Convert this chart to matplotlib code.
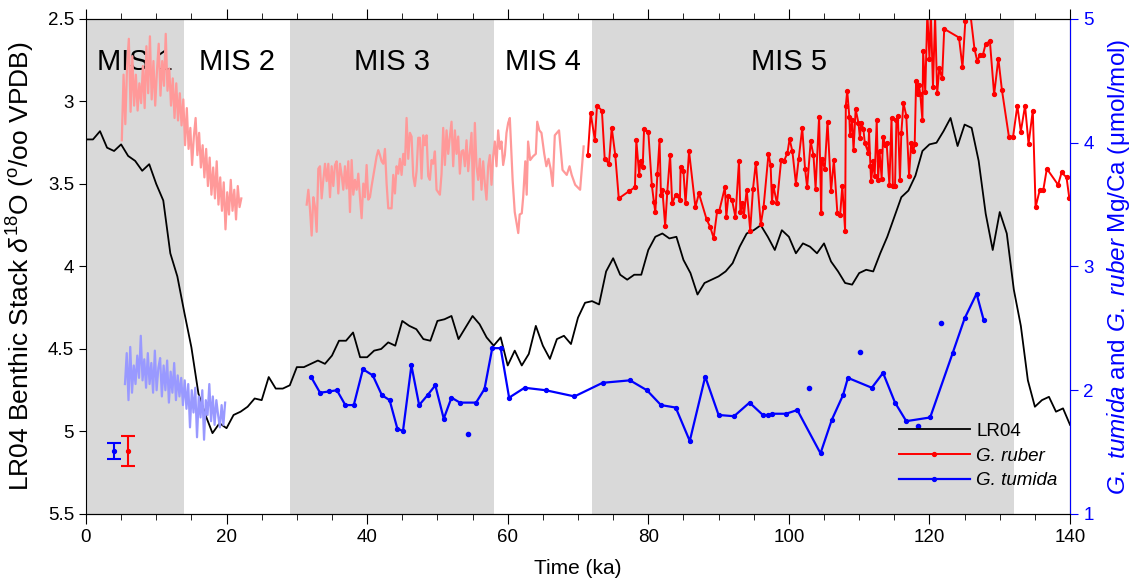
import numpy as np
import matplotlib
matplotlib.use('Agg')
import matplotlib.pyplot as plt
from matplotlib.ticker import MultipleLocator

plt.rcParams['font.family'] = ['Liberation Sans', 'DejaVu Sans']
plt.rcParams['mathtext.fontset'] = 'custom'
plt.rcParams['mathtext.rm'] = 'Liberation Sans'
plt.rcParams['mathtext.it'] = 'Liberation Sans:italic'

# LR04 benthic stack, 1 kyr steps (per mil)
lr04_age = np.arange(0, 141)
lr04_d18o = [3.23, 3.23, 3.18, 3.28, 3.30, 3.26, 3.33, 3.36, 3.42, 3.38,
             3.50, 3.60, 3.92, 4.06, 4.28, 4.49, 4.77, 4.90, 5.01, 4.95,
             4.98, 4.90, 4.88, 4.85, 4.80, 4.81, 4.67, 4.74, 4.74, 4.72,
             4.61, 4.61, 4.59, 4.57, 4.59, 4.54, 4.45, 4.45, 4.40, 4.55,
             4.55, 4.51, 4.50, 4.46, 4.48, 4.33, 4.36, 4.38, 4.44, 4.45,
             4.33, 4.32, 4.30, 4.44, 4.37, 4.30, 4.35, 4.43, 4.48, 4.43,
             4.60, 4.51, 4.60, 4.53, 4.36, 4.48, 4.56, 4.44, 4.42, 4.47,
             4.31, 4.22, 4.21, 4.23, 4.03, 3.95, 4.05, 4.08, 4.05, 4.05,
             3.90, 3.82, 3.80, 3.83, 3.82, 3.96, 4.04, 4.17, 4.10, 4.08,
             4.06, 4.03, 3.98, 3.88, 3.80, 3.78, 3.75, 3.82, 3.90, 3.78,
             3.82, 3.92, 3.86, 3.88, 3.92, 3.86, 3.97, 4.03, 4.10, 4.11,
             4.04, 4.02, 4.03, 3.92, 3.82, 3.70, 3.58, 3.54, 3.45, 3.30,
             3.26, 3.25, 3.18, 3.10, 3.27, 3.14, 3.16, 3.36, 3.68, 3.90,
             3.67, 3.80, 4.14, 4.36, 4.69, 4.85, 4.81, 4.79, 4.88, 4.86,
             4.96]

# G. ruber Mg/Ca (discrete samples)
ruber_age = [71.4, 71.8, 72.4, 72.7, 73.4, 73.8, 74.4, 74.8, 75.3, 75.8,
             77.3, 78.1, 78.3, 78.7, 78.9, 79.2, 79.4, 80.0, 80.5, 80.8,
             81.0, 81.3, 81.6, 81.8, 82.0, 82.4, 82.7, 83.1, 83.4, 83.9,
             84.5, 84.6, 85.0, 85.3, 85.8, 86.7, 87.2, 88.3, 88.8, 89.3,
             89.8, 90.1, 90.9, 91.1, 91.4, 91.9, 92.4, 92.9, 93.1, 93.4,
             93.6, 94.0, 94.5, 94.9, 95.3, 96.0, 96.4, 97.1, 97.4, 97.6,
             97.8, 98.3, 98.9, 99.3, 99.8, 100.1, 100.5, 101.0, 101.4, 101.9,
             102.3, 102.6, 103.1, 103.5, 103.8, 104.3, 104.6, 104.7, 105.1, 105.5,
             106.0, 106.4, 106.9, 107.3, 107.6, 108.0, 108.1, 108.3, 108.6, 108.7,
             109.0, 109.2, 109.5, 109.9, 110.1, 110.3, 110.6, 110.8, 111.3, 111.4,
             111.6, 111.7, 112.0, 112.2, 112.5, 112.7, 112.9, 113.2, 113.4, 113.7,
             113.9, 114.3, 114.6, 114.8, 115.1, 115.3, 115.5, 115.8, 116.0, 116.3,
             116.7, 117.1, 117.4, 117.7, 117.9, 118.1, 118.3, 118.5, 118.7, 119.0,
             119.1, 119.4, 119.7, 120.0, 120.2, 120.5, 120.8, 121.1, 121.4, 121.8,
             122.1, 124.2, 124.7, 125.1, 125.6, 126.4, 126.8, 127.2, 127.6, 128.0,
             128.6, 129.2, 129.8, 130.3, 131.3, 131.9, 132.5, 133.0, 133.6, 134.1,
             134.7, 135.1, 135.7, 136.2, 136.7, 138.3, 138.8, 139.5, 139.9]
ruber_mgca = [3.90, 4.24, 4.02, 4.30, 4.26, 3.87, 3.83, 4.12, 3.90, 3.55,
              3.61, 3.64, 4.02, 3.74, 3.85, 3.80, 4.11, 4.09, 3.66, 3.52,
              3.44, 3.75, 4.02, 3.58, 3.62, 3.33, 3.60, 3.90, 3.51, 3.58,
              3.54, 3.80, 3.77, 3.51, 3.93, 3.48, 3.59, 3.38, 3.32, 3.23,
              3.45, 3.45, 3.64, 3.40, 3.57, 3.54, 3.40, 3.85, 3.44, 3.51,
              3.41, 3.62, 3.29, 3.63, 3.84, 3.34, 3.48, 3.91, 3.82, 3.52,
              3.65, 3.51, 3.86, 3.85, 3.92, 4.03, 3.93, 3.67, 3.87, 4.12,
              3.79, 3.64, 4.01, 3.90, 3.63, 4.21, 3.43, 3.87, 3.79, 4.17,
              3.61, 3.86, 3.43, 3.42, 3.65, 3.29, 4.30, 4.42, 4.21, 4.06,
              4.18, 3.94, 4.27, 4.16, 4.04, 4.16, 4.11, 4.00, 3.92, 4.10,
              3.81, 3.69, 3.85, 3.73, 4.18, 3.70, 3.93, 3.71, 4.05, 3.98,
              4.00, 3.66, 4.20, 3.65, 3.65, 4.18, 4.22, 3.70, 4.08, 4.32,
              4.22, 3.73, 4.00, 3.93, 3.99, 4.50, 4.39, 4.47, 4.39, 4.18,
              4.74, 4.41, 5.05, 4.68, 5.05, 4.45, 5.02, 4.40, 4.60, 4.52,
              4.92, 4.85, 4.61, 4.98, 5.15, 4.76, 4.66, 4.71, 4.71, 4.80,
              4.82, 4.39, 4.68, 4.43, 4.05, 4.05, 4.30, 4.09, 4.30, 3.99,
              4.26, 3.48, 3.62, 3.62, 3.79, 3.66, 3.76, 3.72, 3.55]

# G. tumida Mg/Ca (discrete samples)
tumida_age = [32.0, 33.3, 34.6, 35.7, 36.9, 38.1, 39.4, 40.8, 42.1, 43.2,
              44.3, 45.1, 46.3, 47.4, 48.6, 49.7, 50.9, 52.0, 53.2, 55.5,
              56.7, 57.8, 59.0, 60.2, 62.4, 65.4, 69.5, 73.5, 77.4, 79.8,
              81.8, 83.9, 85.9, 88.1, 90.0, 92.2, 94.4, 96.3, 97.0, 97.6,
              99.6, 101.2, 104.5, 106.1, 107.7, 108.4, 111.8, 113.4, 115.1, 116.7,
              120.1, 123.3, 125.0, 126.7, 127.7]
tumida_mgca = [2.11, 1.98, 1.99, 2.00, 1.88, 1.88, 2.17, 2.12, 1.96, 1.92,
               1.69, 1.67, 2.20, 1.88, 1.96, 2.04, 1.77, 1.94, 1.90, 1.90,
               2.01, 2.34, 2.34, 1.94, 2.02, 2.00, 1.95, 2.06, 2.08, 2.00,
               1.88, 1.86, 1.59, 2.11, 1.80, 1.79, 1.90, 1.80, 1.80, 1.81,
               1.81, 1.84, 1.49, 1.76, 1.96, 2.10, 2.02, 2.14, 1.90, 1.75,
               1.78, 2.30, 2.58, 2.78, 2.57]
# isolated G. tumida samples (not joined)
tumida_iso_age = [54.3, 102.9, 110.1, 118.4, 121.7]
tumida_iso_mgca = [1.65, 2.02, 2.31, 1.71, 2.54]

# high resolution G. ruber record, Holocene / deglaciation (evenly sampled)
hr_ruber1 = [4.02, 4.55, 4.15, 4.62, 4.84, 4.25, 4.70, 4.30, 4.55, 4.26,
             4.48, 4.32, 4.62, 4.28, 4.78, 4.40, 4.86, 4.35, 4.66, 4.30,
             4.58, 4.80, 4.38, 4.66, 4.46, 4.88, 4.42, 4.60, 4.30, 4.52,
             4.20, 4.48, 4.18, 4.40, 4.14, 4.35, 3.98, 4.28, 3.95, 4.12,
             3.82, 4.05, 4.20, 3.90, 4.08, 3.80, 3.98, 3.72, 3.95, 3.65,
             3.88, 3.58, 3.80, 3.55, 3.85, 3.50, 3.72, 3.45, 3.68, 3.30,
             3.60, 3.42, 3.70, 3.45, 3.62, 3.38, 3.65, 3.48, 3.55]
hr_ruber1_age = np.linspace(5.1, 22.1, len(hr_ruber1))

# high resolution G. ruber record, MIS 3 (evenly sampled part)
hr_ruber2 = [3.50, 3.62, 3.46, 3.25, 3.56, 3.48, 3.28, 3.79, 3.81, 3.55,
             3.70, 3.83, 3.69, 3.83, 3.56, 3.81, 3.65, 3.82, 3.85, 3.59,
             3.83, 3.74, 3.62, 3.81, 3.63, 3.85, 3.44, 3.86, 3.58, 3.70,
             3.62, 3.75, 3.56, 3.39, 3.67, 3.56, 3.82, 3.54, 3.56, 3.65,
             3.73, 3.81, 3.89, 3.94, 3.90, 3.85, 3.83, 3.95, 3.67, 3.47,
             3.47, 3.47, 3.74, 3.59, 3.81, 3.75, 3.87, 3.74, 3.91, 3.82,
             4.20, 3.87, 4.08, 4.05, 3.73, 3.65, 3.77, 4.04, 4.04, 3.71,
             4.06, 3.98, 4.06, 3.73, 3.70, 3.86, 3.83, 3.93, 3.62, 3.60,
             3.58, 3.75, 4.12, 3.82, 4.10, 3.91, 4.05, 4.17, 3.81, 4.10,
             3.91, 4.05, 3.75, 3.93, 3.94, 3.81, 4.02, 3.77, 3.93, 4.08,
             3.54, 4.16, 3.81, 3.70, 3.87, 3.62, 3.85, 3.67, 3.54, 3.81,
             3.90, 3.66, 3.89, 4.01, 3.81, 4.10, 3.95, 4.01, 3.82, 3.90,
             4.08, 4.16, 4.20]
hr_ruber2_age = np.linspace(31.4, 60.3, len(hr_ruber2))
# sparser MIS 4 part of the same record
hr_ruber3_age = [60.7, 61.0, 61.3, 61.5, 61.7, 62.0, 62.2, 62.5, 62.7, 62.9,
                 63.2, 63.6, 64.0, 64.2, 64.5, 64.8, 65.2, 65.5, 65.8, 66.1,
                 66.4, 66.7, 67.3, 67.8, 68.4, 68.8, 69.1, 69.6, 70.3, 70.8]
hr_ruber3 = [3.70, 3.44, 3.34, 3.27, 3.42, 3.43, 3.56, 3.85, 3.58, 4.01,
             3.86, 3.89, 3.91, 4.17, 4.10, 4.08, 3.91, 3.81, 3.87, 3.79,
             3.65, 4.06, 4.10, 3.78, 3.74, 3.81, 3.74, 3.66, 3.62, 3.97]

# high resolution G. tumida record (evenly sampled)
hr_tumida = [2.05, 2.30, 1.92, 2.35, 1.98, 2.20, 2.05, 2.28, 2.10, 2.44,
             2.08, 2.25, 2.02, 2.30, 2.05, 2.22, 1.98, 2.32, 2.00, 2.18,
             2.26, 1.95, 2.20, 2.00, 2.24, 1.90, 2.15, 1.98, 2.22, 1.92,
             2.12, 1.95, 2.10, 1.88, 2.08, 1.85, 2.05, 1.70, 2.00, 1.82,
             2.02, 1.62, 1.95, 1.78, 2.00, 1.60, 1.92, 1.80, 2.05, 1.75,
             1.95, 1.72, 1.92, 1.80, 1.70, 1.88, 1.72, 1.90]
hr_tumida_age = np.linspace(5.55, 19.8, len(hr_tumida))

# analytical uncertainty bars
err_x = [4.0, 6.0]
err_y = [1.51, 1.51]
err_e = [0.067, 0.12]
err_colors = ['#0000ff', '#ff0000']

# marine isotope stages
mis_labels = ['MIS 1', 'MIS 2', 'MIS 3', 'MIS 4', 'MIS 5']
mis_bounds = [(0, 14), (14, 29), (29, 58), (58, 72), (72, 132)]
mis_shaded = [True, False, True, False, True]
mis_label_x = [7, 21.5, 43.5, 65, 100]

fig = plt.figure(figsize=(11.34, 5.86), dpi=100)
ax = fig.add_axes([0.0758, 0.1229, 0.8678, 0.8447])
ax2 = ax.twinx()

for (a, b), shade in zip(mis_bounds, mis_shaded):
    if shade:
        ax.axvspan(a, b, color='#d9d9d9', lw=0, zorder=0)
for lab, x in zip(mis_labels, mis_label_x):
    ax.text(x, 2.76, lab, ha='center', va='center', fontsize=21, zorder=1)

ln_lr, = ax.plot(lr04_age, lr04_d18o, color='black', lw=1.3, label='LR04', zorder=3)
ax.set_xlim(0, 140)
ax.set_ylim(5.5, 2.5)

faded_red = '#ff9999'
faded_blue = '#9999ff'
ax2.plot(hr_ruber1_age, hr_ruber1, color=faded_red, lw=1.6)
ax2.plot(np.concatenate([hr_ruber2_age, hr_ruber3_age]), hr_ruber2 + hr_ruber3,
         color=faded_red, lw=1.6)
ax2.plot(hr_tumida_age, hr_tumida, color=faded_blue, lw=1.6)
ln_rub, = ax2.plot(ruber_age, ruber_mgca, color='#ff0000', lw=1.4, marker='o',
                   ms=2.8, label='G. ruber')
ln_tum, = ax2.plot(tumida_age, tumida_mgca, color='#0000ff', lw=1.6, marker='o',
                   ms=2.8, label='G. tumida')
ax2.plot(tumida_iso_age, tumida_iso_mgca, ls='none', color='#0000ff', marker='o', ms=3)
for x, y, e, c in zip(err_x, err_y, err_e, err_colors):
    ax2.errorbar(x, y, yerr=e, color=c, marker='o', ms=2.8, capsize=5,
                 elinewidth=1.5, capthick=1.5)
ax2.set_ylim(1, 5)

# ticks and spines
ax.xaxis.set_major_locator(MultipleLocator(20))
ax.xaxis.set_minor_locator(MultipleLocator(5))
ax.tick_params(axis='x', which='both', direction='out', top=True, labelsize=13.5)
ax.tick_params(axis='x', which='major', length=7)
ax.tick_params(axis='x', which='minor', length=4)
ax.tick_params(axis='y', direction='out', length=5, labelsize=13.5)
ax.set_yticks([2.5, 3, 3.5, 4, 4.5, 5, 5.5])
ax.set_yticklabels(['2.5', '3', '3.5', '4', '4.5', '5', '5.5'])
ax2.set_yticks([1, 2, 3, 4, 5])
ax2.tick_params(axis='y', direction='out', length=6, colors='#0000ff', labelsize=13.5)
ax2.spines['right'].set_color('#0000ff')
ax2.spines['left'].set_visible(False)

ax.set_xlabel('Time (ka)', fontsize=15, labelpad=10)
ax.set_ylabel('LR04 Benthic Stack $\\delta^{\\mathrm{18}}$O ($^{\\mathrm{o}}$/oo VPDB)',
              fontsize=19, labelpad=8)
ax2.set_ylabel('$\\it{G.\\ tumida}$ and $\\it{G.\\ ruber}$ Mg/Ca (μmol/mol)',
               fontsize=17.5, color='#0000ff', labelpad=8)

leg = ax2.legend([ln_lr, ln_rub, ln_tum], ['LR04', 'G. ruber', 'G. tumida'],
                 loc='lower right', bbox_to_anchor=(0.995, 0.035), frameon=False,
                 fontsize=13.5, handlelength=3.8, handletextpad=0.35,
                 labelspacing=0.4, borderaxespad=0)
for t in leg.get_texts()[1:]:
    t.set_style('italic')

fig.savefig('out.png', dpi=100)
